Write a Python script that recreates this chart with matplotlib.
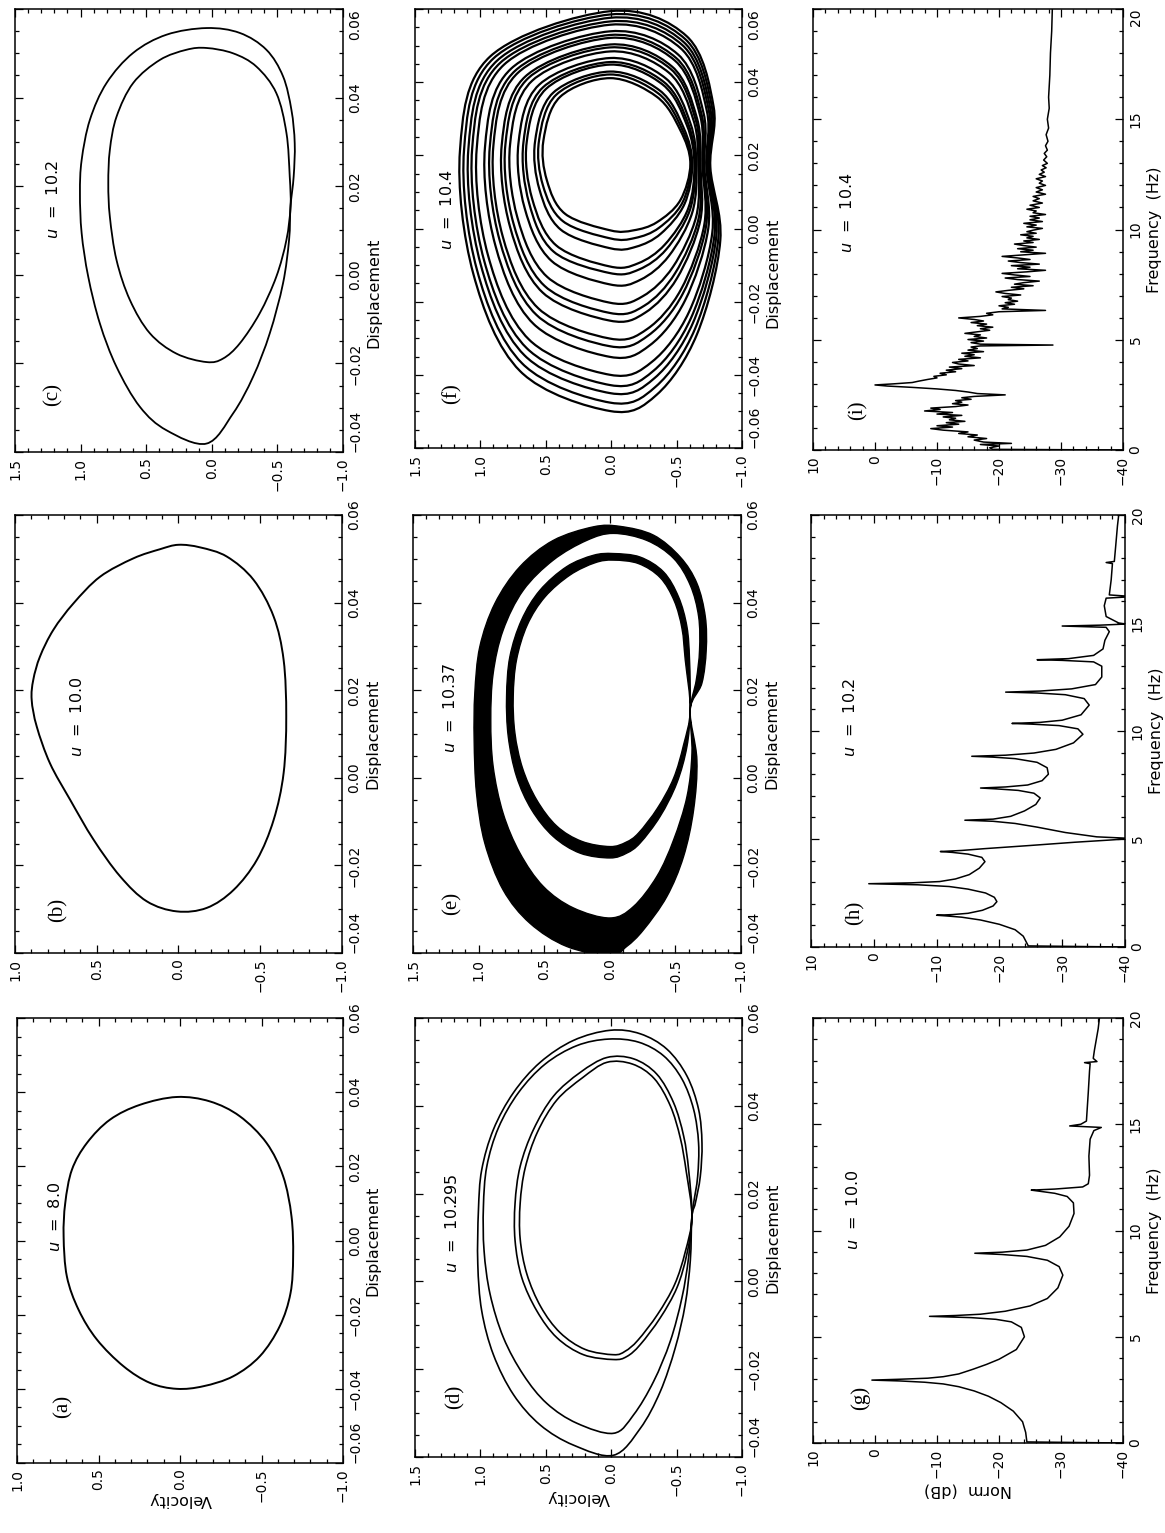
import numpy as np
import matplotlib
matplotlib.use("Agg")
import matplotlib.pyplot as plt
from matplotlib.path import Path
from matplotlib.patches import PathPatch
from matplotlib.ticker import MultipleLocator, FuncFormatter

W, H = 1165, 1533

# ---------------- phase portraits: loops (velocity, displacement) ----
A_VEL = [0.02, 0.245, 0.429, 0.571, 0.663, 0.704, 0.714, 0.694, 0.622, 0.51, 0.347, 0.184,
         0.02, -0.143, -0.327, -0.49, -0.612, -0.678, -0.694, -0.684, -0.633, -0.531, -0.367, -0.184]
A_DISP = [0.0387, 0.0366, 0.0326, 0.0263, 0.0191, 0.0101, 0.0011, -0.0097, -0.0187, -0.0267, -0.0339, -0.0384,
          -0.040, -0.0393, -0.0366, -0.0312, -0.0231, -0.0142, -0.0043, 0.0065, 0.0173, 0.0263, 0.0335, 0.0375]

B_VEL = [0.898, 0.867, 0.786, 0.663, 0.520, 0.357, 0.194, 0.010, -0.173, -0.337, -0.480, -0.582, -0.643, -0.659,
         -0.643, -0.582, -0.459, -0.296, -0.133, 0.0, 0.112, 0.276, 0.48, 0.643, 0.765, 0.847, 0.888]
B_DISP = [0.0178, 0.0117, 0.0033, -0.0050, -0.0141, -0.0225, -0.0282, -0.0305, -0.0297, -0.0256, -0.0187, -0.0096,
          0.0011, 0.014, 0.0269, 0.0368, 0.0452, 0.0505, 0.0526, 0.0532, 0.0522, 0.0501, 0.0459, 0.0398, 0.0338,
          0.0277, 0.0224]

C_OUT_VEL = [0.04, 0.345, 0.548, 0.726, 0.853, 0.942, 0.992, 1.005, 0.992, 0.929, 0.802, 0.599, 0.345, 0.04,
             -0.213, -0.416, -0.543, -0.607, -0.632, -0.624, -0.600, -0.589, -0.543, -0.442, -0.315, -0.162]
C_OUT_DISP = [-0.0381, -0.0351, -0.0298, -0.0208, -0.011, -0.0004, 0.0094, 0.0184, 0.0259, 0.035, 0.0433, 0.0501,
              0.0542, 0.0557, 0.0546, 0.0508, 0.0448, 0.0372, 0.0297, 0.0222, 0.0154, 0.0079, -0.0019, -0.0132,
              -0.023, -0.0313]
C_IN_VEL = [0.04, 0.269, 0.472, 0.624, 0.726, 0.777, 0.789, 0.777, 0.726, 0.599, 0.396, 0.193, 0.04, -0.162,
            -0.34, -0.492, -0.569, -0.594, -0.600, -0.569, -0.492, -0.365, -0.213, -0.086]
C_IN_DISP = [-0.0197, -0.0178, -0.0132, -0.0057, 0.0033, 0.0131, 0.0206, 0.0282, 0.0357, 0.0433, 0.0485, 0.0508,
             0.0512, 0.05, 0.047, 0.041, 0.032, 0.0222, 0.0154, 0.0079, -0.0004, -0.0087, -0.0155, -0.0189]

D1_VEL = [-0.018, 0.288, 0.543, 0.747, 0.9005, 0.99, 1.020, 1.015, 0.99, 0.9005, 0.747, 0.543, 0.288, 0.008,
          -0.222, -0.426, -0.579, -0.668, -0.694, -0.681, -0.643, -0.617, -0.605, -0.566, -0.49, -0.375, -0.222]
D1_DISP = [-0.0396, -0.0373, -0.0327, -0.0258, -0.0167, -0.0067, 0.0040, 0.0162, 0.0254, 0.0346, 0.043, 0.0499,
           0.0549, 0.0572, 0.0564, 0.0529, 0.0468, 0.0392, 0.0315, 0.0239, 0.0178, 0.0147, 0.0048, -0.0052,
           -0.0151, -0.0251, -0.0335]
D2_VEL = [-0.018, 0.263, 0.492, 0.671, 0.824, 0.926, 0.972, 0.977, 0.951, 0.862, 0.709, 0.505, 0.263, 0.020,
          -0.209, -0.40, -0.541, -0.630, -0.668, -0.661, -0.630, -0.617, -0.592, -0.541, -0.452, -0.324, -0.171]
D2_DISP = [-0.0346, -0.0323, -0.0278, -0.0213, -0.0128, -0.0029, 0.0070, 0.0170, 0.0262, 0.035, 0.043, 0.0495,
           0.0537, 0.0552, 0.0545, 0.0514, 0.0461, 0.0392, 0.0315, 0.0239, 0.0178, 0.0147, 0.0055, -0.0037,
           -0.0136, -0.0228, -0.0304]
D3_VEL = [-0.018, 0.212, 0.416, 0.569, 0.684, 0.735, 0.735, 0.696, 0.594, 0.441, 0.237, 0.033, -0.171, -0.349,
          -0.477, -0.554, -0.592, -0.617, -0.579, -0.503, -0.375, -0.222, -0.120]
D3_DISP = [-0.0178, -0.0167, -0.0128, -0.0067, 0.0009, 0.0093, 0.0178, 0.0262, 0.0346, 0.0422, 0.0476, 0.0510,
           0.0507, 0.0472, 0.0407, 0.0331, 0.0254, 0.0147, 0.0063, -0.0014, -0.0083, -0.0144, -0.0171]
D4_VEL = [-0.018, 0.199, 0.390, 0.538, 0.645, 0.696, 0.696, 0.658, 0.564, 0.416, 0.219, 0.033, -0.163, -0.329,
          -0.452, -0.528, -0.574, -0.617, -0.566, -0.485, -0.355, -0.204, -0.107]
D4_DISP = [-0.0167, -0.0155, -0.0117, -0.0058, 0.0017, 0.0097, 0.0178, 0.0258, 0.034, 0.0413, 0.0464, 0.0499,
           0.0495, 0.0462, 0.04, 0.0327, 0.025, 0.0147, 0.0067, -0.0007, -0.0075, -0.0134, -0.0159]

# (e): two thick bands, each given by its outer and inner edge
E_OUT_A_VEL = [-0.002, 0.329, 0.609, 0.813, 0.953, 1.016, 1.034, 1.029, 0.991, 0.876, 0.685, 0.431, 0.125, -0.079,
               -0.333, -0.537, -0.664, -0.728, -0.735, -0.702, -0.613, -0.664, -0.639, -0.562, -0.435, -0.257, -0.129]
E_OUT_A_DISP = [-0.0406, -0.0385, -0.0332, -0.0256, -0.0149, -0.0035, 0.0086, 0.0193, 0.0299, 0.0398, 0.0482,
                0.0542, 0.0573, 0.0574, 0.0554, 0.0504, 0.0444, 0.0368, 0.0292, 0.0216, 0.0155, 0.0041, -0.0073,
                -0.0180, -0.0271, -0.0347, -0.0385]
E_OUT_B_VEL = [-0.002, 0.278, 0.507, 0.685, 0.813, 0.889, 0.907, 0.889, 0.813, 0.660, 0.431, 0.176, -0.028, -0.282,
               -0.486, -0.613, -0.677, -0.684, -0.659, -0.613, -0.626, -0.588, -0.486, -0.359, -0.18]
E_OUT_B_DISP = [-0.032, -0.0297, -0.0248, -0.0172, -0.0081, 0.0026, 0.0132, 0.0238, 0.0337, 0.0428, 0.0497, 0.0542,
                0.0558, 0.0542, 0.0501, 0.044, 0.0368, 0.0292, 0.0223, 0.0155, 0.0056, -0.0043, -0.0142, -0.0225,
                -0.0294]
E_IN_A_VEL = [-0.002, 0.227, 0.431, 0.596, 0.711, 0.774, 0.787, 0.762, 0.673, 0.533, 0.329, 0.125, -0.028, -0.231,
              -0.41, -0.524, -0.588, -0.608, -0.613, -0.588, -0.511, -0.384, -0.231, -0.129]
E_IN_A_DISP = [-0.0183, -0.0172, -0.0134, -0.0073, 0.0003, 0.0094, 0.0185, 0.0276, 0.036, 0.0428, 0.0482, 0.0508,
               0.0512, 0.0504, 0.047, 0.0413, 0.0345, 0.0269, 0.0155, 0.0071, -0.0012, -0.0088, -0.0149, -0.0172]
E_IN_B_VEL = [-0.002, 0.214, 0.405, 0.558, 0.665, 0.723, 0.736, 0.711, 0.629, 0.494, 0.303, 0.112, -0.028, -0.219,
              -0.384, -0.491, -0.55, -0.575, -0.613, -0.562, -0.486, -0.364, -0.219, -0.124]
E_IN_B_DISP = [-0.0157, -0.0145, -0.011, -0.005, 0.0022, 0.0102, 0.0185, 0.0269, 0.0349, 0.0413, 0.0463, 0.0491,
               0.0497, 0.0489, 0.0457, 0.0404, 0.0341, 0.0269, 0.0155, 0.0075, -0.0001, -0.0069, -0.0126, -0.0147]

# (f): strands of the chaotic attractor, from the innermost to the outermost
F_VEL = [
    [0.008, 0.352, 0.492, 0.518, 0.390, 0.008, -0.349, -0.528, -0.605, -0.528, -0.349, -0.171],
    [0.008, 0.369, 0.522, 0.552, 0.419, 0.008, -0.361, -0.541, -0.612, -0.545, -0.366, -0.182],
    [0.008, 0.386, 0.548, 0.582, 0.444, 0.008, -0.372, -0.554, -0.620, -0.559, -0.380, -0.189],
    [0.008, 0.421, 0.604, 0.646, 0.497, 0.008, -0.395, -0.579, -0.636, -0.589, -0.410, -0.207],
    [0.008, 0.441, 0.628, 0.671, 0.521, 0.008, -0.404, -0.590, -0.641, -0.601, -0.421, -0.213],
    [0.008, 0.455, 0.661, 0.709, 0.551, 0.008, -0.418, -0.605, -0.651, -0.620, -0.441, -0.224],
    [0.008, 0.490, 0.717, 0.773, 0.604, 0.008, -0.441, -0.630, -0.666, -0.650, -0.472, -0.242],
    [0.008, 0.509, 0.748, 0.809, 0.634, 0.008, -0.455, -0.645, -0.675, -0.668, -0.489, -0.253],
    [0.008, 0.524, 0.773, 0.837, 0.658, 0.008, -0.464, -0.656, -0.682, -0.681, -0.503, -0.260],
    [0.008, 0.558, 0.829, 0.901, 0.712, 0.008, -0.487, -0.681, -0.697, -0.712, -0.533, -0.278],
    [0.008, 0.572, 0.853, 0.928, 0.735, 0.008, -0.497, -0.692, -0.703, -0.725, -0.546, -0.285],
    [0.008, 0.593, 0.885, 0.965, 0.765, 0.008, -0.510, -0.707, -0.712, -0.742, -0.564, -0.296],
    [0.008, 0.627, 0.942, 1.028, 0.819, 0.008, -0.533, -0.732, -0.727, -0.773, -0.595, -0.313],
    [0.008, 0.646, 0.972, 1.063, 0.848, 0.008, -0.545, -0.746, -0.736, -0.790, -0.611, -0.323],
    [0.008, 0.662, 0.998, 1.092, 0.872, 0.008, -0.556, -0.758, -0.743, -0.803, -0.625, -0.331],
    [0.008, 0.680, 1.027, 1.125, 0.900, 0.008, -0.568, -0.771, -0.751, -0.819, -0.641, -0.341],
    [0.008, 0.696, 1.054, 1.156, 0.926, 0.008, -0.579, -0.783, -0.758, -0.834, -0.656, -0.349],
]
F_DISP = [
    [-0.0005, 0.0040, 0.0132, 0.0241, 0.0360, 0.0411, 0.0360, 0.0269, 0.0177, 0.0077, 0.0017, -0.0005],
    [-0.0027, 0.0020, 0.0118, 0.0240, 0.0366, 0.0421, 0.0369, 0.0272, 0.0177, 0.0071, 0.0002, -0.0026],
    [-0.0054, -0.0003, 0.0106, 0.0238, 0.0371, 0.0429, 0.0377, 0.0275, 0.0176, 0.0066, -0.0014, -0.0050],
    [-0.0104, -0.0046, 0.0081, 0.0236, 0.0382, 0.0448, 0.0393, 0.0282, 0.0175, 0.0055, -0.0044, -0.0095],
    [-0.0122, -0.0063, 0.0070, 0.0235, 0.0386, 0.0455, 0.0400, 0.0285, 0.0174, 0.0050, -0.0057, -0.0112],
    [-0.0153, -0.0089, 0.0055, 0.0233, 0.0393, 0.0466, 0.0410, 0.0288, 0.0174, 0.0044, -0.0075, -0.0140],
    [-0.0203, -0.0132, 0.0030, 0.0230, 0.0404, 0.0484, 0.0426, 0.0295, 0.0173, 0.0033, -0.0105, -0.0185],
    [-0.0231, -0.0157, 0.0015, 0.0229, 0.0411, 0.0495, 0.0436, 0.0298, 0.0173, 0.0027, -0.0122, -0.0211],
    [-0.0252, -0.0175, 0.0004, 0.0228, 0.0415, 0.0503, 0.0443, 0.0301, 0.0173, 0.0022, -0.0136, -0.0230],
    [-0.0301, -0.0218, -0.0022, 0.0225, 0.0426, 0.0521, 0.0459, 0.0307, 0.0172, 0.0011, -0.0167, -0.0274],
    [-0.0322, -0.0236, -0.0032, 0.0224, 0.0431, 0.0529, 0.0466, 0.0310, 0.0171, 0.0006, -0.0179, -0.0292],
    [-0.0351, -0.0261, -0.0047, 0.0222, 0.0437, 0.0539, 0.0476, 0.0314, 0.0171, 0.0000, -0.0197, -0.0319],
    [-0.0400, -0.0304, -0.0073, 0.0219, 0.0448, 0.0557, 0.0492, 0.0320, 0.0170, -0.0011, -0.0228, -0.0364],
    [-0.0428, -0.0327, -0.0087, 0.0218, 0.0453, 0.0566, 0.0501, 0.0323, 0.0169, -0.0016, -0.0244, -0.0389],
    [-0.0450, -0.0347, -0.0098, 0.0217, 0.0459, 0.0576, 0.0509, 0.0327, 0.0169, -0.0022, -0.0258, -0.0409],
    [-0.0476, -0.0369, -0.0112, 0.0215, 0.0465, 0.0585, 0.0517, 0.0330, 0.0168, -0.0027, -0.0274, -0.0432],
    [-0.0499, -0.0390, -0.0124, 0.0214, 0.0470, 0.0594, 0.0525, 0.0333, 0.0168, -0.0033, -0.0289, -0.0454],
]

# ---------------- spectra (frequency Hz, norm dB) ----------------
G_SPECTRUM = [(0.0, -40), (0.05, -24.5), (0.5, -24.3), (1.0, -23.8), (1.5, -22.3), (1.9, -20.3), (2.2, -18.3),
              (2.45, -16.0), (2.65, -13.5), (2.78, -11.0), (2.86, -8.0), (2.92, -4.0), (2.96, 0.5), (3.0, -4.0),
              (3.05, -8.5), (3.12, -11.0), (3.25, -13.5), (3.47, -15.8), (3.7, -18.0), (3.94, -20.0),
              (4.4, -22.8), (5.0, -24.1), (5.44, -23.6), (5.7, -22.0), (5.82, -19.5), (5.9, -15.5), (5.96, -8.8),
              (6.0, -13.0), (6.06, -17.0), (6.2, -21.0), (6.45, -25.0), (6.8, -27.8), (7.3, -29.5), (7.9, -30.3),
              (8.3, -29.7), (8.6, -27.8), (8.78, -24.5), (8.87, -20.5), (8.93, -16.1), (8.98, -20.5),
              (9.08, -24.5), (9.3, -27.5), (9.7, -29.8), (10.2, -31.3), (10.8, -32.1), (11.3, -32.0),
              (11.6, -31.0), (11.75, -29.0), (11.85, -26.5), (11.9, -25.2), (11.95, -29.0), (12.05, -33.5),
              (12.2, -34.4), (12.6, -34.6), (13.5, -34.5), (14.3, -34.7), (14.7, -35.3), (14.85, -36.5),
              (14.92, -31.4), (15.0, -33.2), (15.15, -34.1), (15.6, -34.2), (16.5, -34.4), (17.5, -34.6),
              (17.85, -34.7), (17.9, -33.8), (17.95, -35.8), (18.1, -35.2), (18.5, -35.4), (19.5, -36.0),
              (20.0, -36.2)]

H_SPECTRUM = [(0.0, -40), (0.05, -24.6), (0.5, -23.8), (0.8, -22.5), (1.05, -20.0), (1.25, -17.0), (1.38, -14.0),
              (1.44, -11.5), (1.47, -10), (1.5, -12.5), (1.56, -15), (1.7, -17.3), (1.9, -19.0), (2.1, -19.6),
              (2.3, -19.2), (2.5, -17.8), (2.68, -15.0), (2.8, -12.0), (2.88, -7.0), (2.93, 0.8), (2.97, -6.0),
              (3.03, -10.5), (3.15, -13.0), (3.35, -15.2), (3.65, -16.8), (3.95, -17.7), (4.15, -17.2),
              (4.3, -15.0), (4.38, -12.5), (4.42, -10.6), (4.47, -14.0), (4.55, -17.5), (4.7, -24.9),
              (4.85, -32.0), (4.95, -37.5), (5.0, -40), (5.04, -40), (5.1, -35.5), (5.3, -30.5), (5.55, -26.0),
              (5.72, -22.5), (5.82, -19), (5.87, -14.5), (5.92, -19), (6.05, -21.8), (6.3, -24.0), (6.6, -25.8),
              (6.9, -26.5), (7.12, -25.5), (7.25, -23.0), (7.32, -19.5), (7.36, -17), (7.41, -21),
              (7.5, -24.5), (7.7, -26.8), (8.0, -27.8), (8.3, -27.6), (8.55, -26.0), (8.72, -22.5), (8.79, -19.0),
              (8.83, -15.6), (8.88, -21.0), (8.98, -25.5), (9.15, -29.0), (9.45, -31.8), (9.85, -33.3),
              (10.1, -32.5), (10.25, -29.5), (10.32, -25.0), (10.35, -22), (10.4, -26.5), (10.5, -30.0),
              (10.75, -33.0), (11.2, -34.3), (11.5, -33.5), (11.68, -30.5), (11.76, -26.0), (11.8, -21),
              (11.85, -26.5), (11.95, -31.5), (12.15, -35.3), (12.5, -36.3), (13.0, -36.3), (13.2, -35.0),
              (13.27, -30.0), (13.3, -26), (13.35, -31.0), (13.5, -35.0), (13.8, -36.5), (14.2, -36.8),
              (14.6, -37.5), (14.8, -37), (14.86, -30), (14.9, -36), (14.95, -40), (15.0, -39), (15.3, -37),
              (15.8, -36.7), (16.15, -37), (16.2, -40), (16.25, -40), (16.3, -37.5), (17.0, -37.8),
              (17.75, -38), (17.8, -37), (17.85, -38.3), (18.5, -38.5), (19.5, -38.8), (20.0, -39)]

I_SPECTRUM = [(0.00, -40), (0.03, -19), (0.10, -18.5), (0.18, -20), (0.25, -17), (0.30, -22), (0.36, -17.5),
              (0.45, -16), (0.52, -18), (0.60, -15), (0.68, -16.5), (0.75, -13.5), (0.82, -15), (0.90, -11),
              (0.97, -9), (1.04, -12.5), (1.10, -10), (1.17, -13.5), (1.24, -11.5), (1.30, -14.5), (1.37, -12),
              (1.44, -13), (1.50, -11), (1.57, -14), (1.63, -10), (1.70, -12.5), (1.77, -8), (1.84, -10.5),
              (1.90, -9), (1.97, -13), (2.04, -15), (2.10, -12.5), (2.17, -14), (2.24, -13), (2.30, -15.5),
              (2.37, -14), (2.43, -16), (2.50, -21), (2.56, -16.5), (2.63, -15), (2.70, -13), (2.77, -10),
              (2.84, -6), (2.90, -2), (2.95, 0), (3.00, -3), (3.06, -6), (3.12, -7), (3.20, -8.5), (3.27, -10),
              (3.34, -9.5), (3.41, -11.5), (3.48, -10.5), (3.55, -13), (3.62, -11.5), (3.69, -14), (3.76, -12),
              (3.83, -16), (3.90, -13.5), (3.97, -12.5), (4.04, -15), (4.11, -13.5), (4.18, -17), (4.25, -14.5),
              (4.32, -16), (4.39, -14), (4.46, -17.5), (4.53, -15), (4.60, -16.5), (4.67, -15.5), (4.72, -17),
              (4.76, -28.7), (4.80, -17), (4.87, -15.5), (4.94, -17.5), (5.01, -15), (5.08, -18), (5.15, -16),
              (5.22, -17), (5.29, -14.5), (5.36, -16.5), (5.43, -18.5), (5.50, -17), (5.57, -19), (5.64, -16.5),
              (5.71, -18), (5.78, -15.5), (5.85, -17.5), (5.92, -16), (5.99, -13.5), (6.06, -17), (6.13, -19),
              (6.20, -18), (6.27, -20), (6.33, -27.5), (6.40, -20.5), (6.47, -21.5), (6.54, -20), (6.61, -22.5),
              (6.68, -21), (6.75, -23), (6.82, -21.5), (6.89, -22), (6.96, -20.5), (7.03, -23.5), (7.10, -21),
              (7.17, -19.5), (7.24, -21.5), (7.31, -24), (7.38, -22), (7.45, -25.5), (7.52, -22.5), (7.59, -24),
              (7.66, -26.5), (7.73, -23), (7.80, -21), (7.87, -25), (7.94, -22.5), (8.01, -20.5), (8.08, -24.5),
              (8.15, -27.5), (8.22, -23), (8.29, -25), (8.36, -22), (8.43, -26.5), (8.50, -23.5), (8.57, -21.5),
              (8.64, -25), (8.71, -23), (8.78, -20.5), (8.85, -24), (8.92, -27.5), (8.99, -23.5), (9.06, -25.5),
              (9.13, -23), (9.20, -26), (9.27, -24), (9.34, -22.5), (9.41, -25.5), (9.48, -24), (9.55, -26.5),
              (9.62, -24.5), (9.69, -25.5), (9.76, -23.5), (9.83, -26), (9.90, -24.5), (9.97, -25.5),
              (10.05, -27), (10.12, -24.5), (10.20, -26), (10.28, -24), (10.36, -27), (10.44, -25), (10.52, -26.5),
              (10.60, -25), (10.68, -27.5), (10.76, -25.5), (10.84, -26), (10.92, -24.5), (11.00, -26.5),
              (11.10, -25), (11.20, -27), (11.30, -25.5), (11.40, -26.5), (11.50, -25.5), (11.60, -27.5),
              (11.70, -26), (11.80, -27), (11.90, -26), (12.00, -27.5), (12.10, -26.5), (12.20, -27),
              (12.30, -26), (12.40, -27.5), (12.50, -26.5), (12.60, -27.3), (12.70, -26.8), (12.80, -27.6),
              (12.90, -27), (13.00, -27.8), (13.15, -27.2), (13.30, -27.7), (13.45, -27.3), (13.60, -27.8),
              (13.80, -27.5), (14.00, -27.9), (14.30, -27.6), (14.60, -28), (15.00, -27.8), (15.50, -28.1),
              (16.00, -28.0), (17.00, -28.2), (18.00, -28.3), (19.00, -28.5), (20.00, -28.6)]

U_VALUES = ["8.0", "10.0", "10.2", "10.295", "10.37", "10.4", "10.0", "10.2", "10.4"]
PANEL_TAGS = ["(a)", "(b)", "(c)", "(d)", "(e)", "(f)", "(g)", "(h)", "(i)"]


def closed_curve(vel, disp):
    # smooth closed curve through the read points (Catmull-Rom as cubic Beziers)
    p = np.column_stack([vel, disp]).astype(float)
    n = len(p)
    verts = [p[0]]
    codes = [Path.MOVETO]
    for i in range(n):
        p0, p1, p2, p3 = p[i - 1], p[i], p[(i + 1) % n], p[(i + 2) % n]
        verts += [p1 + (p2 - p0) / 6.0, p2 - (p3 - p1) / 6.0, p2]
        codes += [Path.CURVE4] * 3
    return Path(verts, codes)


def draw_loop(ax, vel, disp, lw=1.2):
    ax.add_patch(PathPatch(closed_curve(vel, disp), fill=False, ec="k", lw=lw))


def draw_band(ax, outer, inner):
    p = Path.make_compound_path(closed_curve(outer[0], outer[1]),
                                closed_curve(inner[0][::-1], inner[1][::-1]))
    ax.add_patch(PathPatch(p, fc="k", ec="k", lw=1.0))


def fmt(decimals):
    def f(x, pos):
        if abs(x) < 1e-9:
            x = 0.0
        return f"{x:.{decimals}f}".replace("-", "\u2212")
    return FuncFormatter(f)


def style(ax, xlim, ylim, xstep, xminor, ystep, yminor, xdec, ydec, top_row, pin_low):
    ax.set_xlim(*xlim)
    ax.set_ylim(*ylim)
    ax.xaxis.set_major_locator(MultipleLocator(xstep))
    ax.xaxis.set_minor_locator(MultipleLocator(xminor))
    ax.yaxis.set_major_locator(MultipleLocator(ystep))
    ax.yaxis.set_minor_locator(MultipleLocator(yminor))
    ax.xaxis.set_major_formatter(fmt(xdec))
    ax.yaxis.set_major_formatter(fmt(ydec))
    ax.tick_params(which="both", direction="in", top=True, bottom=True, left=True, right=True,
                   labelleft=False, labelright=True, labelsize=10, width=0.9)
    ax.tick_params(which="major", length=6)
    ax.tick_params(which="minor", length=3)
    ax.tick_params(axis="x", pad=4)
    ax.tick_params(axis="y", pad=4)
    for s in ax.spines.values():
        s.set_linewidth(1.1)
    for lab in ax.get_xticklabels():
        lab.set_rotation(90)
        lab.set_rotation_mode("default")
        lab.set_horizontalalignment("center")
        lab.set_verticalalignment("top")
    lo, hi = min(ylim), max(ylim)
    locs = ax.yaxis.get_majorticklocs()
    ticks = ax.yaxis.get_major_ticks(len(locs))
    for tick, loc in zip(ticks, locs):
        lab = tick.label2
        lab.set_rotation(90)
        lab.set_rotation_mode("default")
        lab.set_horizontalalignment("left")
        va = "center"
        if top_row and abs(loc - hi) < 1e-6 * max(1.0, abs(hi)):
            va = "top"
        if pin_low and abs(loc - lo) < 1e-6 * max(1.0, abs(lo)):
            va = "bottom"
        lab.set_verticalalignment(va)


fig = plt.figure(figsize=(W / 100, H / 100), dpi=100)


def add_panel(x0, x1, y0, y1):
    return fig.add_axes([x0 / W, 1 - y1 / H, (x1 - x0) / W, (y1 - y0) / H])


boxes = [(17, 343, 1018, 1463), (15, 342, 515, 953), (15, 343, 9, 452),
         (415, 742, 1018, 1457), (413, 741, 515, 953), (415, 742, 9, 448),
         (813, 1123, 1018, 1443), (811, 1125, 515, 947), (813, 1123, 9, 450)]
axes = [add_panel(*b) for b in boxes]
ax_a, ax_b, ax_c, ax_d, ax_e, ax_f, ax_g, ax_h, ax_i = axes
in_top_row = [False, False, True, False, False, True, False, False, True]

# phase portraits
draw_loop(ax_a, A_VEL, A_DISP, 1.4)
draw_loop(ax_b, B_VEL, B_DISP, 1.4)
draw_loop(ax_c, C_OUT_VEL, C_OUT_DISP, 1.3)
draw_loop(ax_c, C_IN_VEL, C_IN_DISP, 1.3)
for v, d in [(D1_VEL, D1_DISP), (D2_VEL, D2_DISP), (D3_VEL, D3_DISP), (D4_VEL, D4_DISP)]:
    draw_loop(ax_d, v, d, 1.2)
draw_band(ax_e, (E_OUT_A_VEL, E_OUT_A_DISP), (E_OUT_B_VEL, E_OUT_B_DISP))
draw_band(ax_e, (E_IN_A_VEL, E_IN_A_DISP), (E_IN_B_VEL, E_IN_B_DISP))
for v, d in zip(F_VEL, F_DISP):
    draw_loop(ax_f, v, d, 1.6)

phase_limits = [((1.0, -1.0), (-0.06, 0.06)), ((1.0, -1.0), (-0.04, 0.06)), ((1.5, -1.0), (-0.04, 0.06)),
                ((1.5, -1.0), (-0.04, 0.06)), ((1.5, -1.0), (-0.04, 0.06)), ((1.5, -1.0), (-0.06, 0.06))]
disp_label_y = [0.5, 0.5, 0.36, 0.5, 0.5, 0.40]
for ax, (xl, yl), ly, top in zip(axes[:6], phase_limits, disp_label_y, in_top_row[:6]):
    style(ax, xl, yl, 0.5, 0.1, 0.02, 0.005, 1, 2, top, True)
    ax.yaxis.set_label_position("right")
    ax.set_ylabel("Displacement", fontsize=11.5, rotation=90)
    ax.yaxis.set_label_coords(1.07, ly)

for ax, y in [(ax_a, -0.065), (ax_d, -0.075)]:
    ax.set_xlabel("Velocity", fontsize=11.5, rotation=180, va="top")
    ax.xaxis.set_label_coords(0.5, y)

# spectra
for ax, spec, top in [(ax_g, G_SPECTRUM, False), (ax_h, H_SPECTRUM, False), (ax_i, I_SPECTRUM, True)]:
    freq, norm = zip(*spec)
    ax.plot(norm, freq, color="k", lw=1.1)
    style(ax, (10, -40), (0, 20), 10, 2, 5, 1, 0, 0, top, False)
    ax.yaxis.set_label_position("right")
    ax.set_ylabel("Frequency  (Hz)", fontsize=11.5, rotation=90)
    ax.yaxis.set_label_coords(1.077, 0.5)
ax_g.set_xlabel("Norm  (dB)", fontsize=11.5, rotation=180, va="top")
ax_g.xaxis.set_label_coords(0.5, -0.092)

tag_pos = [(0.14, 0.126), (0.13, 0.098), (0.116, 0.129), (0.122, 0.137), (0.119, 0.114),
           (0.113, 0.125), (0.152, 0.106), (0.14, 0.079), (0.145, 0.09)]
u_pos = [(0.117, 0.553), (0.19, 0.54), (0.116, 0.569), (0.113, 0.533), (0.113, 0.56),
         (0.098, 0.542), (0.13, 0.548), (0.124, 0.532), (0.11, 0.537)]
for ax, tag, tp, u, up in zip(axes, PANEL_TAGS, tag_pos, U_VALUES, u_pos):
    ax.text(tp[0], tp[1], tag, transform=ax.transAxes, rotation=90, ha="center", va="center",
            fontsize=15, family="Liberation Serif")
    ax.text(up[0], up[1], r"$u$  =  " + u, transform=ax.transAxes, rotation=90, ha="center",
            va="center", fontsize=11.5)

fig.savefig("out.png", dpi=100)
